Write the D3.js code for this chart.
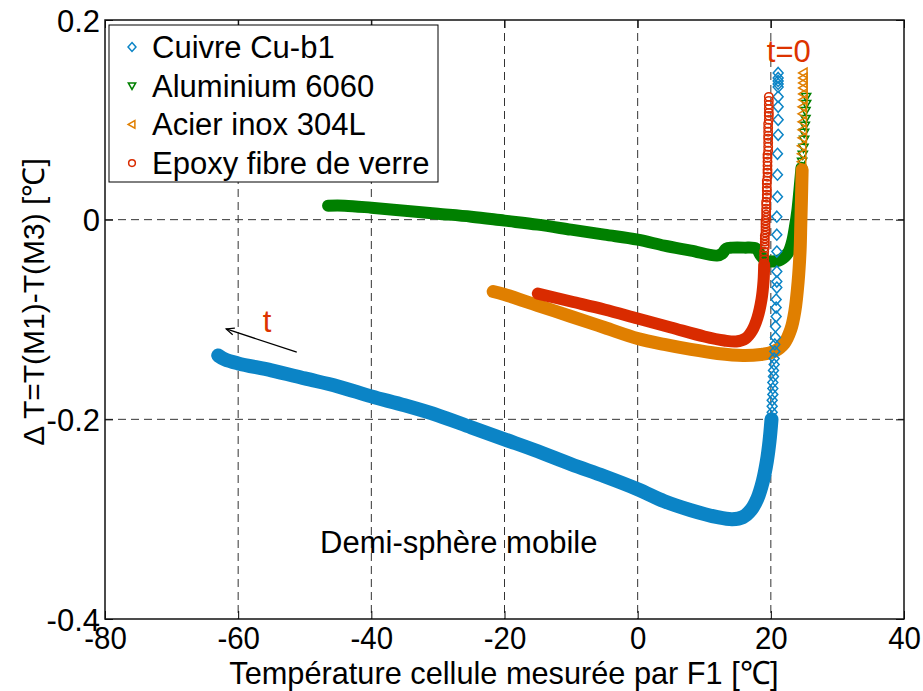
<!DOCTYPE html>
<html>
<head>
<meta charset="utf-8">
<script src="https://cdn.jsdelivr.net/npm/d3@7"></script>
<style>
	body { margin: 0; background: #fff; }
	text { font-family: 'Liberation Sans', Arial, sans-serif; fill: #000; }
</style>
</head>
<body>
<div id="chart"></div>
<script>
// NOTE values
// trail = part where the markers pile up into a band, marks = separate markers
var xTicks = [-80, -60, -40, -20, 0, 20, 40];
var yTicks = [-0.4, -0.2, 0, 0.2];

var seriesNames = ['Cuivre Cu-b1', 'Aluminium 6060', 'Acier inox 304L', 'Epoxy fibre de verre'];

var cuivreMarks = [
	[21.1, 0.147], [21.1, 0.142], [21.1, 0.139], [21.1, 0.136], [21.1, 0.133], [21.1, 0.123],
	[21.1, 0.113], [21.1, 0.100], [21.1, 0.085], [21.0, 0.066], [21.0, 0.045], [21.0, 0.023],
	[20.9, 0.003], [20.9, -0.015], [20.9, -0.032], [20.9, -0.052], [20.9, -0.062], [20.9, -0.068],
	[20.8, -0.080], [20.8, -0.088], [20.8, -0.097], [20.7, -0.107], [20.7, -0.118], [20.6, -0.125],
	[20.6, -0.132], [20.5, -0.139], [20.5, -0.145], [20.4, -0.151], [20.4, -0.157], [20.3, -0.163],
	[20.3, -0.169], [20.3, -0.175], [20.2, -0.181], [20.2, -0.187], [20.2, -0.193], [20.1, -0.199]
];
var cuivreTrail = [
	[20.1, -0.200], [19.8, -0.222], [19.4, -0.242], [18.8, -0.262], [18.0, -0.279], [17.0, -0.291],
	[15.8, -0.298], [14.2, -0.300], [12.0, -0.298], [8.0, -0.291], [4.0, -0.282], [0.0, -0.270],
	[-5.0, -0.257], [-10.0, -0.245], [-15.0, -0.232], [-20.0, -0.220], [-25.0, -0.208], [-30.0, -0.196],
	[-35.0, -0.186], [-40.0, -0.177], [-45.0, -0.167], [-50.0, -0.159], [-55.0, -0.151], [-60.0, -0.144],
	[-62.0, -0.140], [-63.0, -0.136]
];

var aluMarks = [
	[25.3, 0.123], [25.3, 0.116], [25.2, 0.109], [25.2, 0.101], [25.1, 0.094],
	[25.0, 0.087], [25.0, 0.080], [24.9, 0.072], [24.8, 0.065], [24.7, 0.058]
];
var aluTrail = [
	[24.6, 0.052], [24.3, 0.030], [24.0, 0.010], [23.6, -0.008], [23.2, -0.022], [22.6, -0.033],
	[21.5, -0.040], [20.0, -0.042], [19.2, -0.041], [18.5, -0.036], [17.8, -0.029], [16.0, -0.028],
	[14.2, -0.028], [13.3, -0.029], [12.7, -0.034], [11.9, -0.036], [8.0, -0.031], [4.0, -0.026],
	[0.0, -0.020], [-5.0, -0.015], [-10.0, -0.010], [-15.0, -0.005], [-20.0, -0.001], [-25.0, 0.003],
	[-30.0, 0.006], [-35.0, 0.009], [-40.0, 0.012], [-44.0, 0.014], [-46.5, 0.014]
];

var acierMarks = [
	[24.9, 0.147], [24.9, 0.142], [24.9, 0.137], [24.9, 0.132], [24.9, 0.126], [24.9, 0.120],
	[24.8, 0.113], [24.8, 0.106], [24.8, 0.098], [24.8, 0.090], [24.8, 0.082], [24.7, 0.074],
	[24.7, 0.066], [24.7, 0.058]
];
var acierTrail = [
	[24.7, 0.050], [24.6, 0.020], [24.5, -0.005], [24.4, -0.030], [24.1, -0.062], [23.6, -0.092],
	[23.0, -0.110], [22.0, -0.124], [20.5, -0.132], [18.5, -0.135], [15.8, -0.136], [12.0, -0.134],
	[8.0, -0.130], [4.0, -0.125], [0.0, -0.119], [-5.0, -0.108], [-10.0, -0.097], [-15.0, -0.086],
	[-20.0, -0.075], [-21.7, -0.072]
];

var epoxyMarks = [
	[19.7, 0.123], [19.7, 0.119], [19.7, 0.115], [19.7, 0.111], [19.7, 0.107], [19.7, 0.104],
	[19.7, 0.100], [19.6, 0.096], [19.6, 0.092], [19.6, 0.088], [19.6, 0.084], [19.6, 0.081],
	[19.6, 0.077], [19.6, 0.073], [19.6, 0.069], [19.5, 0.065], [19.5, 0.062], [19.5, 0.058],
	[19.5, 0.054], [19.5, 0.050], [19.5, 0.047], [19.5, 0.043], [19.4, 0.039], [19.4, 0.036],
	[19.4, 0.032], [19.4, 0.029], [19.4, 0.025], [19.4, 0.022], [19.3, 0.018], [19.3, 0.015],
	[19.3, 0.011], [19.3, 0.008], [19.3, 0.005], [19.3, 0.002], [19.2, -0.001], [19.2, -0.004],
	[19.2, -0.007], [19.2, -0.010], [19.2, -0.013], [19.1, -0.016], [19.1, -0.019], [19.1, -0.022],
	[19.1, -0.025], [19.1, -0.028], [19.0, -0.032], [19.0, -0.036], [19.0, -0.040]
];
var epoxyTrail = [
	[19.0, -0.045], [18.9, -0.062], [18.6, -0.080], [18.0, -0.098], [17.2, -0.111], [16.2, -0.119],
	[14.8, -0.122], [13.0, -0.121], [10.0, -0.117], [5.0, -0.108], [0.0, -0.099], [-5.0, -0.090],
	[-10.0, -0.082], [-15.0, -0.074]
];

// annotations (data coordinates)
var noteTexts = ['t=0', 't', 'Demi-sphère mobile'];
var noteX = [19.4, -56.3, -47.7];
var noteY = [0.158, -0.113, -0.334];
var arrowFrom = [-51.2, -0.1326];
var arrowTo = [-61.8, -0.1095];

var W = 923, H = 691;
var margin = { top: 20, right: 19, bottom: 72, left: 105 };
var width = W - margin.left - margin.right,
	height = H - margin.top - margin.bottom;

var svg = d3
	.select('#chart')
	.append('svg')
	.attr('width', W)
	.attr('height', H)
	.append('g')
	.attr('transform', 'translate(' + margin.left + ', ' + margin.top + ')');

var x = d3.scaleLinear().domain([-80, 40]).range([0, width]);
var y = d3.scaleLinear().domain([-0.4, 0.2]).range([height, 0]);

// marker shapes
function diamond(r) {
	return 'M0,' + -r + 'L' + r * 0.9 + ',0L0,' + r + 'L' + -r * 0.9 + ',0Z';
}
function triDown(r) {
	return 'M' + -r + ',' + -r * 0.75 + 'L' + r + ',' + -r * 0.75 + 'L0,' + r + 'Z';
}
function triLeft(r) {
	return 'M' + -r + ',0L' + r * 0.75 + ',' + -r + 'L' + r * 0.75 + ',' + r + 'Z';
}
function circle(r) {
	return 'M' + r + ',0A' + r + ',' + r + ' 0 1,1 ' + -r + ',0A' + r + ',' + r + ' 0 1,1 ' + r + ',0Z';
}

var series = [
	{ name: seriesNames[1], color: '#008000', shape: triDown, size: 4.6, band: 12, trail: aluTrail, marks: aluMarks },
	{ name: seriesNames[2], color: '#e07f00', shape: triLeft, size: 4.8, band: 13, trail: acierTrail, marks: acierMarks },
	{ name: seriesNames[0], color: '#0b84c6', shape: diamond, size: 5.5, band: 14, trail: cuivreTrail, marks: cuivreMarks },
	{ name: seriesNames[3], color: '#d92b00', shape: circle, size: 4.2, band: 12, trail: epoxyTrail, marks: epoxyMarks }
];
var legendOrder = [2, 0, 1, 3];

// grid
svg
	.selectAll('.vgrid')
	.data(xTicks.slice(1, -1))
	.enter()
	.append('line')
	.attr('x1', function (d) { return x(d); })
	.attr('x2', function (d) { return x(d); })
	.attr('y1', 0)
	.attr('y2', height)
	.style('stroke', '#333')
	.style('stroke-dasharray', '8,5');

svg
	.selectAll('.hgrid')
	.data(yTicks.slice(1, -1))
	.enter()
	.append('line')
	.attr('x1', 0)
	.attr('x2', width)
	.attr('y1', function (d) { return y(d); })
	.attr('y2', function (d) { return y(d); })
	.style('stroke', '#333')
	.style('stroke-dasharray', '8,5');

// axes (ticks inward, box drawn separately)
var fmt = function (d) { return String(d); };

var xAxis = svg
	.append('g')
	.attr('transform', 'translate(0,' + height + ')')
	.call(d3.axisBottom(x).tickValues(xTicks).tickSize(-8).tickFormat(fmt));
xAxis.selectAll('text')
	.attr('y', 30)
	.attr('dy', null)
	.attr('transform', 'scale(0.92,1)')
	.style('font-size', '32px');

svg.append('g').call(d3.axisTop(x).tickValues(xTicks).tickSize(-8).tickFormat(''));

var yAxis = svg
	.append('g')
	.call(d3.axisLeft(y).tickValues(yTicks).tickSize(-8).tickPadding(5).tickFormat(fmt));
yAxis.selectAll('text').style('font-size', '31px').attr('dy', '0.36em');

svg
	.append('g')
	.attr('transform', 'translate(' + width + ',0)')
	.call(d3.axisRight(y).tickValues(yTicks).tickSize(-8).tickFormat(''));

svg.selectAll('.domain').remove();
svg.selectAll('.tick line').style('stroke', '#000');
svg.selectAll('.tick text').style('fill', '#000').style('font-family', "'Liberation Sans', Arial, sans-serif");

// series: dense band first, then separate markers
var line = d3
	.line()
	.x(function (d) { return x(d[0]); })
	.y(function (d) { return y(d[1]); })
	.curve(d3.curveCatmullRom.alpha(0.5));

series.forEach(function (s) {
	svg
		.append('path')
		.datum(s.trail)
		.attr('d', line)
		.style('fill', 'none')
		.style('stroke', s.color)
		.style('stroke-width', s.band)
		.style('stroke-linejoin', 'round')
		.style('stroke-linecap', 'round');

	svg
		.append('g')
		.selectAll('path')
		.data(s.marks)
		.enter()
		.append('path')
		.attr('transform', function (d) { return 'translate(' + x(d[0]) + ',' + y(d[1]) + ')'; })
		.attr('d', s.shape(s.size))
		.style('fill', 'none')
		.style('stroke', s.color)
		.style('stroke-width', 1.5);
});

// box
svg
	.append('rect')
	.attr('width', width)
	.attr('height', height)
	.style('fill', 'none')
	.style('stroke', '#111')
	.style('stroke-width', 1.5);

// legend
var legend = svg.append('g').attr('transform', 'translate(4,5)');
legend
	.append('rect')
	.attr('width', 329)
	.attr('height', 157)
	.style('fill', '#fff')
	.style('stroke', '#000');

legendOrder.forEach(function (k, i) {
	var s = series[k];
	var cy = 22 + i * 38.7;
	legend
		.append('path')
		.attr('transform', 'translate(23,' + cy + ')')
		.attr('d', s.shape(s.size * 0.8))
		.style('fill', 'none')
		.style('stroke', s.color)
		.style('stroke-width', 1.5);
	legend
		.append('text')
		.attr('x', 43)
		.attr('y', cy + 11)
		.style('font-size', '31px')
		.text(s.name);
});

// annotations
var noteColor = ['#dd3300', '#dd3300', '#000'];
noteTexts.forEach(function (t, i) {
	svg
		.append('text')
		.attr('x', x(noteX[i]))
		.attr('y', y(noteY[i]))
		.style('font-size', '31px')
		.style('fill', noteColor[i])
		.text(t);
});

svg
	.append('defs')
	.append('marker')
	.attr('id', 'head')
	.attr('viewBox', '-10 -6 12 12')
	.attr('markerWidth', 12)
	.attr('markerHeight', 12)
	.attr('markerUnits', 'userSpaceOnUse')
	.attr('orient', 'auto')
	.append('path')
	.attr('d', 'M-8,-3.5L0,0L-8,3.5')
	.style('fill', 'none')
	.style('stroke', '#000')
	.style('stroke-width', 1.2);

svg
	.append('line')
	.attr('x1', x(arrowFrom[0]))
	.attr('y1', y(arrowFrom[1]))
	.attr('x2', x(arrowTo[0]))
	.attr('y2', y(arrowTo[1]))
	.style('stroke', '#000')
	.style('stroke-width', 1.3)
	.attr('marker-end', 'url(#head)');

// axis titles
svg
	.append('text')
	.attr('transform', 'translate(' + (504 - margin.left) + ',' + (684 - margin.top) + ') scale(0.96,1)')
	.attr('text-anchor', 'middle')
	.style('font-size', '32px')
	.text('Température cellule mesurée par F1 [℃]');

svg
	.append('text')
	.attr('transform', 'translate(' + (44 - margin.left) + ',' + (302 - margin.top) + ') rotate(-90)')
	.attr('text-anchor', 'middle')
	.style('font-size', '30px')
	.text('Δ T=T(M1)-T(M3) [℃]');
</script>
</body>
</html>
